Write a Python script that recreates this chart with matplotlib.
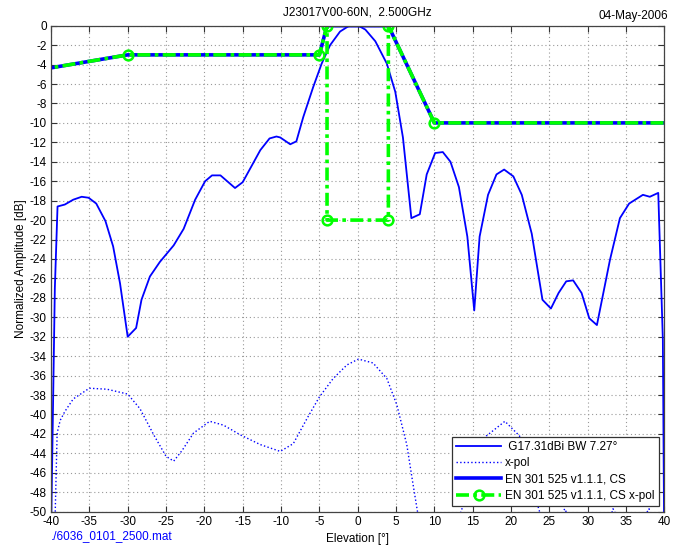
import numpy as np
import matplotlib
matplotlib.use("Agg")
import matplotlib.pyplot as plt

plt.rcParams['font.family'] = ['Liberation Sans', 'DejaVu Sans']
plt.rcParams['axes.unicode_minus'] = False

# measured co-pol pattern (elevation in deg, normalized dB)
elev = [-39.95, -39.5, -39.15, -38.2, -37.1, -36.0, -35.1, -34.1, -32.9, -31.9,
        -31.0, -30.0, -28.9, -28.2, -27.1, -25.8, -24.0, -22.7, -21.2, -19.9,
        -19.0, -17.9, -16.0, -15.0, -12.7, -11.5, -10.6, -10.1, -8.8, -8.0,
        -7.1, -5.8, -4.7, -3.6, -2.3, -1.2, -0.5, 0.2, 1.0, 2.3, 3.8, 4.9,
        5.9, 7.0, 8.1, 9.0, 10.1, 11.1, 12.1, 13.2, 14.3, 15.2, 15.9, 17.0,
        18.1, 19.1, 20.3, 21.4, 22.7, 24.1, 25.2, 26.2, 27.2, 28.1, 29.2,
        30.2, 31.2, 32.9, 34.2, 35.4, 36.6, 37.2, 38.1, 39.2, 39.8, 39.95]
copol = [-50.0, -27.0, -18.6, -18.4, -17.9, -17.6, -17.7, -18.3, -20.1, -22.7,
         -26.5, -32.0, -31.1, -28.2, -25.8, -24.3, -22.6, -20.9, -17.9, -16.0,
         -15.4, -15.4, -16.7, -16.1, -12.8, -11.6, -11.4, -11.5, -12.2, -11.9,
         -9.4, -6.3, -3.9, -2.0, -0.6, -0.05, 0.0, -0.05, -0.4, -1.6, -3.9, -6.8,
         -11.5, -19.8, -19.4, -15.3, -13.1, -13.0, -14.0, -16.6, -21.7, -29.3, -21.7, -17.4,
         -15.3, -14.8, -15.5, -17.4, -21.4, -28.2, -29.1, -27.5, -26.3, -26.2, -27.5,
         -30.1, -30.8, -24.1, -19.8, -18.3, -17.7, -17.4, -17.6, -17.2, -32.3, -50.0]

# cross-pol pattern
xp_elev = [-39.45, -39.2, -38.8, -38.2, -37.1, -35.0, -32.7, -30.0, -28.4, -26.6,
           -25.0, -24.0, -22.9, -21.4, -19.3, -17.5, -15.3, -12.7, -10.1, -8.4,
           -6.6, -5.0, -3.2, -1.4, 0.1, 2.0, 3.8, 5.1, 6.4, 7.2, 7.8, 9.0,
           11.0, 13.6, 15.0, 16.8, 19.2, 21.1, 22.5, 23.6, 25.0, 27.0, 29.0,
           31.0, 33.3, 35.5, 38.0, 39.5]
xpol = [-50.0, -41.9, -40.6, -39.7, -38.4, -37.3, -37.4, -37.9, -39.4, -42.1,
        -44.3, -44.8, -43.7, -41.9, -40.7, -41.1, -42.1, -43.1, -43.8, -43.0,
        -40.4, -38.2, -36.3, -34.9, -34.3, -34.7, -36.3, -39.0, -43.1, -47.1, -50.0, -54.0,
        -56.0, -49.7, -46.5, -42.2, -40.7, -42.2, -46.0, -49.7, -53.0, -49.7, -53.0,
        -56.0, -49.7, -53.0, -49.7, -55.0]

# EN 301 525 v1.1.1 class CS envelope
mask_x = [-45, -30, -5, -4, 4, 10, 45]
mask_y = [-5, -3, -3, 0, 0, -10, -10]
# same envelope with the x-pol notch
mask_xp_x = [-45, -30, -5, -4, -4, 4, 4, 10, 45]
mask_xp_y = [-5, -3, -3, 0, -20, -20, 0, -10, -10]

fig = plt.figure(figsize=(6.73, 5.54), dpi=100)
ax = fig.add_axes([0.0758, 0.0764, 0.9114, 0.8772])

ax.plot(elev, copol, color='blue', lw=1.3, label=' G17.31dBi BW 7.27°')
ax.plot(xp_elev, xpol, color='blue', lw=1.0, ls=':', label='x-pol')
ax.plot(mask_x, mask_y, color='blue', lw=2.6, label='EN 301 525 v1.1.1, CS')
ax.plot(mask_xp_x, mask_xp_y, color=(0, 1, 0), lw=2.6, dashes=(3.6, 1.2, 1.0, 1.2),
        marker='o', ms=7, mfc='none', mec=(0, 1, 0), mew=1.8,
        label='EN 301 525 v1.1.1, CS x-pol')

ax.set_xlim(-40, 40)
ax.set_ylim(-50, 0)
ax.set_xticks(np.arange(-40, 41, 5))
ax.set_yticks(np.arange(-50, 1, 2))
ax.tick_params(direction='in', length=4, width=0.8, top=True, right=True,
               labelsize=8.5, pad=3, colors='#333333', labelcolor='black')
ax.grid(True, ls=(0, (1, 2.5)), color='#999999', lw=0.8)
for s in ax.spines.values():
    s.set_color('#444444')
    s.set_linewidth(0.9)

ax.set_xlabel('Elevation [°]', fontsize=8.5, labelpad=4)
ax.set_ylabel('Normalized Amplitude [dB]', fontsize=8.5, labelpad=2)
ax.set_title('J23017V00-60N,  2.500GHz', fontsize=8.5, pad=7)
fig.text(0.993, 0.96, '04-May-2006', ha='right', va='bottom', fontsize=8.5)
fig.text(0.075, 0.022, './6036_0101_2500.mat', ha='left', va='bottom',
         fontsize=8.5, color='blue')

leg = ax.legend(loc='lower right', fontsize=8.5, fancybox=False, framealpha=1,
                edgecolor='#333333', borderaxespad=0.45, handlelength=3.8,
                labelspacing=0.35, borderpad=0.4, handletextpad=0.3)
leg.get_frame().set_linewidth(0.9)

fig.savefig('out.png', dpi=100)
